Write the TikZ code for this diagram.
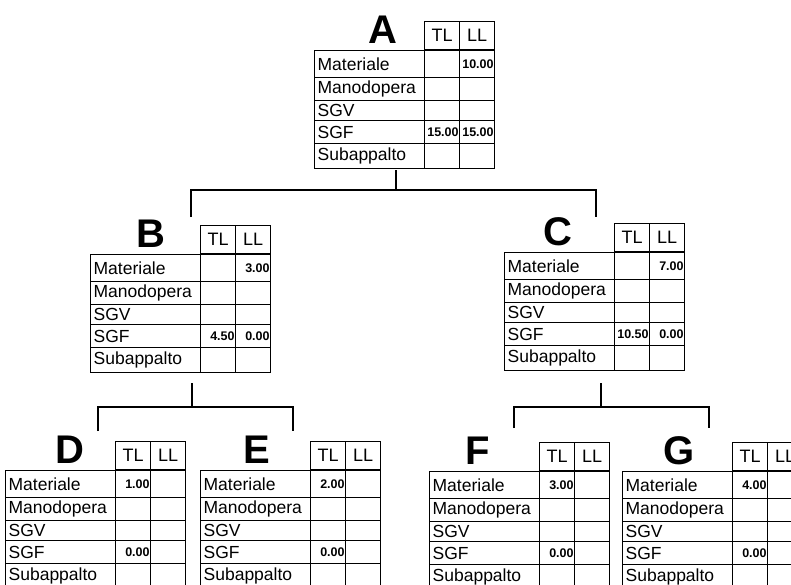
\documentclass[tikz,border=0pt]{standalone}
\usepackage{fontspec}
\setmainfont{Liberation Sans}
\usetikzlibrary{positioning}

% one cost table: letter, left x, top y, letter offset, Materiale TL/LL, SGF TL/LL
\newcommand{\costtab}[8]{%
  \node[tagletter] (#1) at (#2+#4,#3-7) {#1};
  \node[hcell] (#1-htl) at (#2+110,#3) {TL};
  \node[hcell] (#1-hll) at (#2+145,#3) {LL};
  \foreach \lbl/\top/\h [count=\i] in {Materiale/0/27,Manodopera/27/23,SGV/50/20,SGF/70/23,Subappalto/93/25}{
    \node[lcell, minimum height=\h] (#1-r\i) at (#2,#3+\top) {\lbl};
    \node[cell, minimum height=\h] (#1-tl\i) at (#2+110,#3+\top) {};
    \node[cell, minimum height=\h] (#1-ll\i) at (#2+145,#3+\top) {};
  }
  \node[num] (#1-mtl) at (#1-tl1.east) {#5};
  \node[num] (#1-mll) at (#1-ll1.east) {#6};
  \node[num] (#1-stl) at (#1-tl4.east) {#7};
  \node[num] (#1-sll) at (#1-ll4.east) {#8};
}

\begin{document}
\begin{tikzpicture}[
  x=1pt, y=-1pt,
  tagletter/.style={anchor=base, inner sep=0pt, font=\fontsize{40}{40}\selectfont\bfseries},
  hcell/.style={draw, line width=1.3pt, anchor=south west, inner sep=0pt,
    minimum width=35pt, minimum height=28pt, font=\fontsize{18}{18}\selectfont},
  cell/.style={draw, line width=1.3pt, anchor=north west, inner sep=0pt, minimum width=35pt},
  lcell/.style={draw, line width=1.3pt, anchor=north west, inner xsep=3pt, inner ysep=0pt,
    text width=104pt, align=left, font=\fontsize{17.5}{17.5}\selectfont},
  num/.style={anchor=east, inner sep=1.5pt, font=\fontsize{12.5}{13}\selectfont\bfseries},
  branch/.style={line width=1.4pt}
]
  \useasboundingbox (0,0) rectangle (791,584);

  \costtab{A}{314}{50}{69}{}{10.00}{15.00}{15.00}
  \costtab{B}{90}{254}{61}{}{3.00}{4.50}{0.00}
  \costtab{C}{504}{252}{54}{}{7.00}{10.50}{0.00}
  \costtab{D}{5}{470}{65}{1.00}{}{0.00}{}
  \costtab{E}{200}{470}{57}{2.00}{}{0.00}{}
  \costtab{F}{429}{471}{49}{3.00}{}{0.00}{}
  \costtab{G}{622}{471}{57}{4.00}{}{0.00}{}

  \coordinate (A-out) at (396,170);
  \coordinate (A-bar) at (396,190);
  \coordinate (B-in) at (191,217);
  \coordinate (C-in) at (596,217);
  \coordinate (B-out) at (192,383);
  \coordinate (B-bar) at (192,407);
  \coordinate (D-in) at (98,431);
  \coordinate (E-in) at (293,431);
  \coordinate (C-out) at (601,383);
  \coordinate (C-bar) at (601,407);
  \coordinate (F-in) at (514,428);
  \coordinate (G-in) at (709,428);

  \draw[branch] (A-out) -- (A-bar);
  \draw[branch] (B-in) |- (A-bar) -| (C-in);
  \draw[branch] (B-out) -- (B-bar);
  \draw[branch] (D-in) |- (B-bar) -| (E-in);
  \draw[branch] (C-out) -- (C-bar);
  \draw[branch] (F-in) |- (C-bar) -| (G-in);
\end{tikzpicture}
\end{document}
